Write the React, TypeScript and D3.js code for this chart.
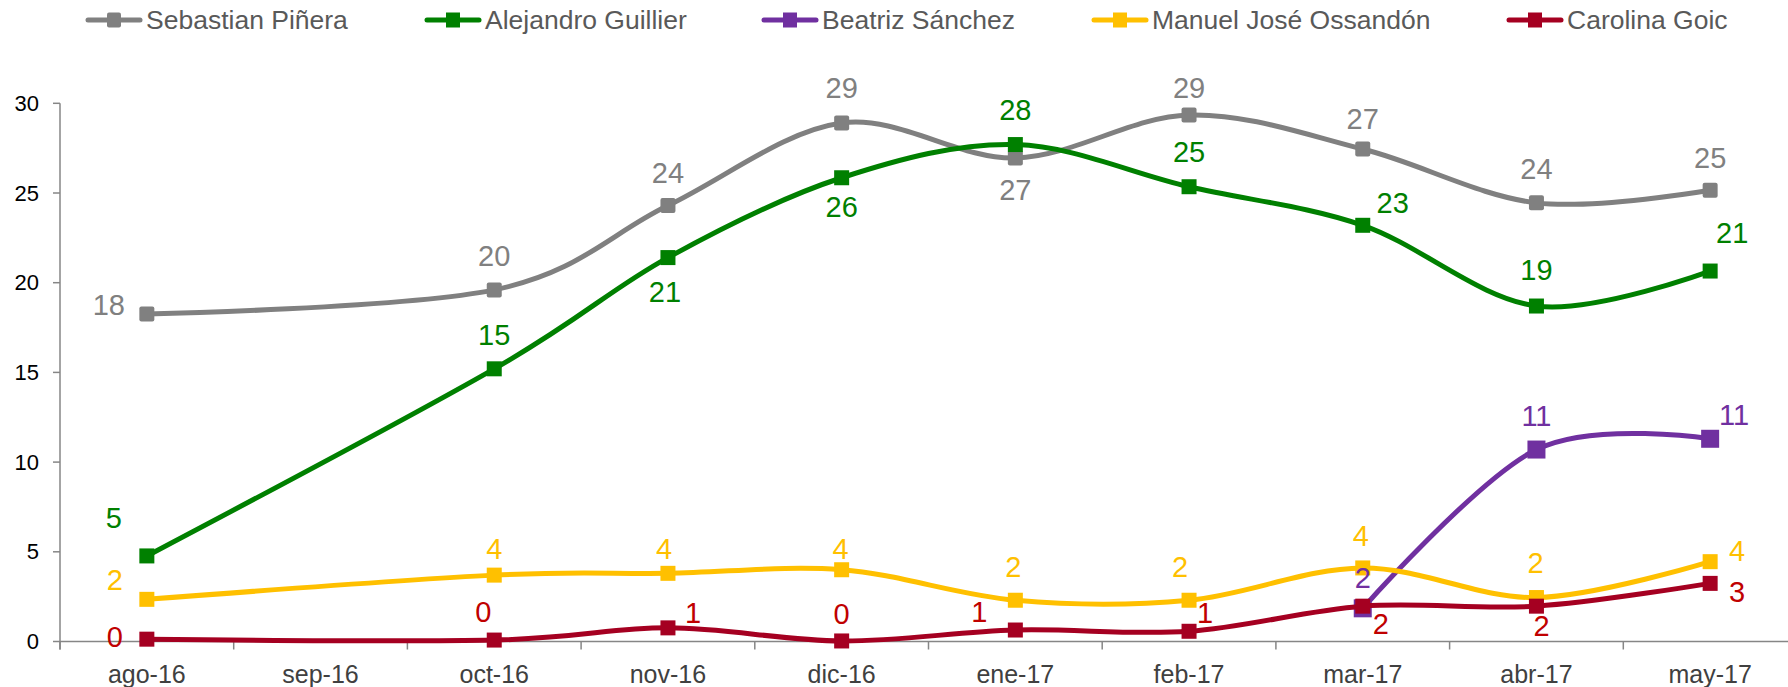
import React from 'react';
import * as d3 from 'd3';

// ---------- DATA ----------
const months = ['ago-16', 'sep-16', 'oct-16', 'nov-16', 'dic-16', 'ene-17', 'feb-17', 'mar-17', 'abr-17', 'may-17'];
const seriesNames = ['Sebastian Piñera', 'Alejandro Guillier', 'Beatriz Sánchez', 'Manuel José Ossandón', 'Carolina Goic'];
const pinera = [18.25, null, 19.6, 24.3, 28.9, 26.95, 29.35, 27.45, 24.45, 25.15];
const guillier = [4.77, null, 15.2, 21.4, 25.85, 27.7, 25.35, 23.2, 18.7, 20.65];
const sanchez = [null, null, null, null, null, null, null, 1.85, 10.7, 11.3];
const ossandon = [2.35, null, 3.7, 3.8, 4.0, 2.3, 2.3, 4.1, 2.45, 4.45];
const goic = [0.13, null, 0.08, 0.76, 0.03, 0.64, 0.57, 1.97, 1.97, 3.24];
const yTicks = [0, 5, 10, 15, 20, 25, 30];

// ---------- STYLE / LAYOUT ----------
const W = 1788;
const H = 687;
const FONT = "'Liberation Sans', Arial, Helvetica, sans-serif";
const lineColors = ['#808080', '#008000', '#7030A0', '#FFC000', '#A50021'];
const labelColors = ['#808080', '#008000', '#7030A0', '#FFC000', '#C00000'];
const markerSizes = [15, 15, 18, 15, 15];
const legendX = [86, 425, 762, 1092, 1507];

// label offsets (dx, dy) relative to each point
const labelOffsets: (number[] | null)[][] = [
  [[-38, -9], null, [0, -34], [0, -33], [0, -35], [0, 32], [0, -27], [0, -30], [0, -34], [0, -32]],
  [[-33, -38], null, [0, -34], [-3, 34], [0, 29], [0, -35], [0, -35], [30, -22], [0, -36], [22, -38]],
  [null, null, null, null, null, null, null, [0, -30], [0, -34], [24, -24]],
  [[-32, -19], null, [0, -26], [-4, -24], [-1, -21], [-2, -33], [-9, -33], [-2, -32], [-1, -35], [27, -11]],
  [[-32, -2], null, [-11, -28], [25, -15], [0, -27], [-36, -18], [16, -18], [18, 18], [5, 20], [27, 9]],
];

const allSeries = [pinera, guillier, sanchez, ossandon, goic];

export default function App() {
  const left = 60;
  const bandW = 173.7;
  const x = d3.scaleBand<string>().domain(months).range([left, left + bandW * months.length]).paddingInner(0).paddingOuter(0);
  const y = d3.scaleLinear().domain([0, 30]).range([641.5, 103.3]);
  const cx = (m: string) => (x(m) as number) + x.bandwidth() / 2;

  const line = d3
    .line<{ m: string; v: number }>()
    .x((d) => cx(d.m))
    .y((d) => y(d.v))
    .curve(d3.curveCardinal.tension(0));

  const boundaries = d3.range(months.length + 1).map((i) => left + i * x.bandwidth());

  return (
    <svg
      width={W}
      height={H}
      viewBox={`0 0 ${W} ${H}`}
      style={{ position: 'absolute', left: 0, top: 0, background: '#fff', fontFamily: FONT }}
    >
      <rect x={0} y={0} width={W} height={H} fill="#fff" />
      {/* Axes */}
      <g stroke="#868686" strokeWidth={1.5} fill="none">
        <line x1={left} y1={y(30)} x2={left} y2={y(0) + 8} />
        <line x1={left} y1={y(0)} x2={W} y2={y(0)} />
        {yTicks.map((t) => (
          <line key={'yt' + t} x1={left - 7} x2={left} y1={y(t)} y2={y(t)} />
        ))}
        {boundaries.map((bx, i) => (
          <line key={'xt' + i} x1={bx} x2={bx} y1={y(0)} y2={y(0) + 8} />
        ))}
      </g>
      {yTicks.map((t) => (
        <text key={'yl' + t} x={39} y={y(t)} textAnchor="end" dominantBaseline="central" fontSize={22} fill="#000">
          {t}
        </text>
      ))}
      {months.map((m) => (
        <text key={'xl' + m} x={cx(m)} y={683} textAnchor="middle" fontSize={25} fill="#404040">
          {m}
        </text>
      ))}

      {/* Series */}
      {allSeries.map((s, si) => {
        const pts = months
          .map((m, i) => ({ m, v: s[i] as number | null }))
          .filter((d) => d.v !== null) as { m: string; v: number }[];
        const ms = markerSizes[si];
        return (
          <g key={'s' + si}>
            <path d={line(pts) || ''} fill="none" stroke={lineColors[si]} strokeWidth={5} strokeLinejoin="round" />
            {pts.map((d) => (
              <rect
                key={'mk' + d.m}
                x={cx(d.m) - ms / 2}
                y={y(d.v) - ms / 2}
                width={ms}
                height={ms}
                rx={si === 0 ? 2 : 0}
                fill={lineColors[si]}
              />
            ))}
          </g>
        );
      })}

      {/* Data labels */}
      {allSeries.map((s, si) => (
        <g key={'lb' + si}>
          {months.map((m, i) => {
            const v = s[i];
            const off = labelOffsets[si][i];
            if (v === null || !off) return null;
            return (
              <text
                key={'l' + m}
                x={cx(m) + off[0]}
                y={y(v) + off[1]}
                textAnchor="middle"
                dominantBaseline="central"
                fontSize={29}
                fill={labelColors[si]}
              >
                {Math.round(v)}
              </text>
            );
          })}
        </g>
      ))}

      {/* Legend */}
      {seriesNames.map((name, i) => (
        <g key={'lg' + i} transform={`translate(${legendX[i]},20)`}>
          <line x1={2} x2={54} y1={0} y2={0} stroke={lineColors[i]} strokeWidth={5} strokeLinecap="round" />
          <rect x={21} y={-7.5} width={14} height={15} rx={i === 0 ? 2 : 0} fill={lineColors[i]} />
          <text x={60} y={0} dominantBaseline="central" fontSize={26.5} fill="#595959">
            {name}
          </text>
        </g>
      ))}
    </svg>
  );
}
